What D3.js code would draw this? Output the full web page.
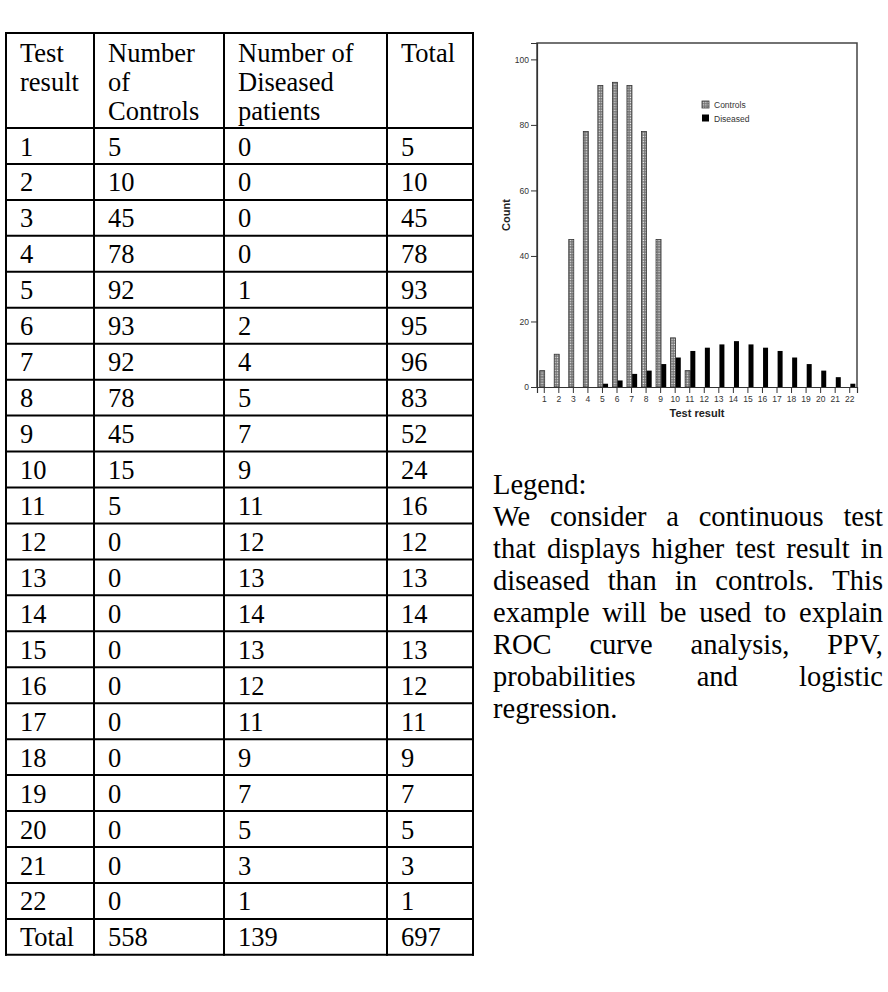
<!DOCTYPE html>
<html><head><meta charset="utf-8">
<script src="https://cdn.jsdelivr.net/npm/d3@7"></script>
<style>
html,body{margin:0;padding:0;background:#fff;}
svg{display:block;}
</style></head>
<body>
<script>
// ---- data ----
const categories = ["1","2","3","4","5","6","7","8","9","10","11","12","13","14","15","16","17","18","19","20","21","22"];
const controls = [5,10,45,78,92,93,92,78,45,15,5,0,0,0,0,0,0,0,0,0,0,0];
const diseased = [0,0,0,0,1,2,4,5,7,9,11,12,13,14,13,12,11,9,7,5,3,1];
const totals   = [5,10,45,78,93,95,96,83,52,24,16,12,13,14,13,12,11,9,7,5,3,1];
const totalRow = ["Total","558","139","697"];
const headers = [["Test","result"],["Number","of","Controls"],["Number of","Diseased","patients"],["Total"]];
const seriesNames = ["Controls","Diseased"];
const yTicks = [0,20,40,60,80,100];
const legendTitle = "Legend:";
const legendLines = ["We consider a continuous test","that displays higher test result in","diseased than in controls. This","example will be used to explain","ROC curve analysis, PPV,","probabilities and logistic","regression."];

const W = 888, H = 992;
const svg = d3.select("body").append("svg").attr("width", W).attr("height", H);

// ---- table ----
const colX = [6, 94, 224, 387, 473];
const tTop = 33, hBottom = 128, rowH = 35.95;
const serif = "'Liberation Serif','Times New Roman',serif";
const tg = svg.append("g");
const rows = categories.map((c,i)=>[c, String(controls[i]), String(diseased[i]), String(totals[i])]);
rows.push(totalRow);
const tBottom = hBottom + rowH*rows.length;
headers.forEach((lines,ci)=>{
  lines.forEach((t,li)=>{
    tg.append("text").attr("x", colX[ci]+14).attr("y", tTop+28.5+li*29)
      .attr("font-family", serif).attr("font-size", 26.5).attr("fill","#000").text(t);
  });
});
rows.forEach((r,ri)=>{
  r.forEach((t,ci)=>{
    tg.append("text").attr("x", colX[ci]+14).attr("y", hBottom+ri*rowH+27.5)
      .attr("font-family", serif).attr("font-size", 26.5).attr("fill","#000").text(t);
  });
});
const hLines = [tTop, hBottom].concat(rows.map((_,i)=>hBottom+(i+1)*rowH));
hLines.forEach(y=>{
  tg.append("line").attr("x1", colX[0]-1).attr("x2", colX[4]+1).attr("y1", y).attr("y2", y)
    .attr("stroke","#000").attr("stroke-width",2);
});
colX.forEach(x=>{
  tg.append("line").attr("x1", x).attr("x2", x).attr("y1", tTop-1).attr("y2", tBottom+1)
    .attr("stroke","#000").attr("stroke-width",2);
});

// ---- chart ----
const px0 = 537, px1 = 857, py0 = 43, py1 = 387;
const x = d3.scaleBand().domain(categories).range([px0, px1]).padding(0);
const y = d3.scaleLinear().domain([0,105]).range([py1, py0]);
const sans = "Arial,'Liberation Sans',sans-serif";

const defs = svg.append("defs");
const pat = defs.append("pattern").attr("id","dots").attr("patternUnits","userSpaceOnUse")
  .attr("width",2.6).attr("height",2.6);
pat.append("rect").attr("width",2.6).attr("height",2.6).attr("fill","#707070");
pat.append("rect").attr("x",0.6).attr("y",0.6).attr("width",1.3).attr("height",1.3).attr("fill","#f0f0f0");

const cg = svg.append("g");
const bw = 5;
cg.selectAll("rect.c").data(categories.map((c,i)=>({c, v: controls[i]})).filter(d=>d.v>0))
  .join("rect").attr("class","c")
  .attr("x", d=>x(d.c)+x.bandwidth()/2-4.6).attr("width", bw)
  .attr("y", d=>y(d.v)).attr("height", d=>y(0)-y(d.v))
  .attr("fill","url(#dots)").attr("stroke","#333").attr("stroke-width",0.8);
cg.selectAll("rect.d").data(categories.map((c,i)=>({c, v: diseased[i]})).filter(d=>d.v>0))
  .join("rect").attr("class","d")
  .attr("x", d=>x(d.c)+x.bandwidth()/2+0.6).attr("width", bw)
  .attr("y", d=>y(d.v)).attr("height", d=>y(0)-y(d.v))
  .attr("fill","#000");

cg.append("path").attr("d", `M${px0},${py1}V${py0}H${px1}V${py1}`)
  .attr("fill","none").attr("stroke","#444").attr("stroke-width",1.5);

const ya = cg.append("g").attr("transform",`translate(${px0},0)`)
  .call(d3.axisLeft(y).tickValues(yTicks).tickSize(6).tickPadding(2));
ya.select(".domain").attr("stroke","#333").attr("stroke-width",1.2);
ya.selectAll(".tick line").attr("stroke","#333");
ya.selectAll("text").attr("font-family",sans).attr("font-size",8.5).attr("fill","#333");

const xa = cg.append("g").attr("transform",`translate(0,${py1})`)
  .call(d3.axisBottom(x).tickSize(6).tickPadding(3));
xa.select(".domain").attr("stroke","#333").attr("stroke-width",1.2);
xa.selectAll(".tick line").attr("stroke","#333");
xa.selectAll("text").attr("font-family",sans).attr("font-size",8.5).attr("fill","#333");

cg.append("text").attr("transform",`translate(510,${(py0+py1)/2}) rotate(-90)`)
  .attr("text-anchor","middle").attr("font-family",sans).attr("font-weight","bold")
  .attr("font-size",11).attr("fill","#222").text("Count");
cg.append("text").attr("x",(px0+px1)/2).attr("y",417).attr("text-anchor","middle")
  .attr("font-family",sans).attr("font-weight","bold").attr("font-size",11).attr("fill","#222").text("Test result");

const lg = cg.append("g").attr("transform","translate(702,101)");
seriesNames.forEach((n,i)=>{
  lg.append("rect").attr("x",0).attr("y",i*13.5).attr("width",7).attr("height",7)
    .attr("fill", i===0 ? "url(#dots)" : "#000").attr("stroke", i===0 ? "#333" : "none").attr("stroke-width",0.8);
  lg.append("text").attr("x",12).attr("y",i*13.5+7).attr("font-family",sans).attr("font-size",8.5)
    .attr("fill","#333").text(n);
});

// ---- legend paragraph (justified) ----
const txL = 493, txR = 883, fs = 28.5;
const pg = svg.append("g");
pg.append("text").attr("x",txL).attr("y",494).attr("font-family",serif).attr("font-size",fs).text(legendTitle);
legendLines.forEach((line,i)=>{
  const yy = 526 + i*32;
  const words = line.split(" ");
  const last = i === legendLines.length-1;
  const nodes = words.map(w=>pg.append("text").attr("y",yy).attr("font-family",serif).attr("font-size",fs).text(w));
  const widths = nodes.map(n=>n.node().getComputedTextLength());
  const total = d3.sum(widths);
  const gap = last || words.length<2 ? fs*0.25 : (txR-txL-total)/(words.length-1);
  let cx = txL;
  nodes.forEach((n,k)=>{ n.attr("x",cx); cx += widths[k]+gap; });
});
</script>
</body></html>
